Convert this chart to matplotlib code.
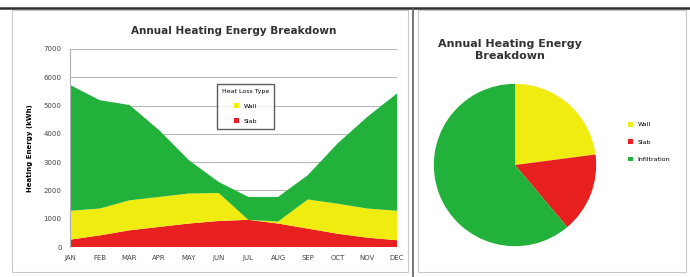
import matplotlib
matplotlib.use('Agg')
import numpy as np
from matplotlib import pyplot as plt
from matplotlib.lines import Line2D
from matplotlib.patches import Rectangle

months = ['JAN', 'FEB', 'MAR', 'APR', 'MAY', 'JUN', 'JUL', 'AUG', 'SEP', 'OCT', 'NOV', 'DEC']
slab   = [260, 410, 590, 710, 830, 920, 960, 830, 650, 470, 330, 240]
wall   = [1020, 950, 1060, 1060, 1060, 990, 0, 70, 1030, 1060, 1030, 1040]
infil  = [4450, 3830, 3370, 2360, 1180, 390, 810, 870, 860, 2130, 3240, 4150]
yticks = [0, 1000, 2000, 3000, 4000, 5000, 6000, 7000]

c_red    = '#e82020'
c_yellow = '#f0ec10'
c_green  = '#22b23c'

W, H = 690, 277
fig = plt.figure(figsize=(W / 100, H / 100), dpi=100)
fig.patch.set_facecolor('white')

# panel frames
fig.add_artist(Line2D([0, 1], [1 - 8 / H, 1 - 8 / H], color='#303030', lw=1.8))
fig.add_artist(Line2D([413 / W, 413 / W], [0, 1 - 8 / H], color='#606060', lw=1.2))
fig.add_artist(Rectangle((12 / W, 5 / H), 396 / W, 262 / H, fill=False, ec='#c8c8c8', lw=0.8))
fig.add_artist(Rectangle((418 / W, 5 / H), 268 / W, 262 / H, fill=False, ec='#c8c8c8', lw=0.8))

# stacked area
ax = fig.add_axes([70 / W, 30 / H, 327 / W, 198 / H])
x = np.arange(len(months))
polys = ax.stackplot(x, slab, wall, infil, colors=[c_red, c_yellow, c_green], lw=0)
ax.set_xlim(0, len(months) - 1)
ax.set_ylim(0, 7000)
ax.set_yticks(yticks)
ax.set_yticklabels([str(v) for v in yticks], fontsize=5, color='#444444')
ax.set_xticks(x)
ax.set_xticklabels(months, fontsize=5, color='#444444')
ax.tick_params(length=0, pad=6)
ax.grid(axis='y', color='#b8b8b8', lw=0.8)
ax.set_axisbelow(True)
for s in ['top', 'right', 'bottom']:
    ax.spines[s].set_visible(False)
ax.spines['left'].set_color('#b0b0b0')
ax.set_ylabel('Heating Energy (kWh)', fontsize=5, fontweight='bold', labelpad=8)
ax.set_title('Annual Heating Energy Breakdown', fontsize=7.5, fontweight='bold', pad=11, color='#333333')
leg = ax.legend([polys[1], polys[0]], ['Wall', 'Slab'], title='Heat Loss Type',
                loc='upper left', bbox_to_anchor=(0.44, 0.84), fontsize=4.5, title_fontsize=4.5,
                frameon=True, fancybox=False, edgecolor='#333333', handlelength=0.8, handleheight=0.8,
                labelspacing=1.5, borderpad=0.8)
leg.get_frame().set_linewidth(1.0)

# pie
pax = fig.add_axes([433 / W, 30 / H, 164 / W, 164 / H])
totals = [sum(wall), sum(slab), sum(infil)]
wedges, _ = pax.pie(totals, colors=[c_yellow, c_red, c_green], startangle=90,
                    counterclock=False, wedgeprops=dict(lw=0))
pax.set_xlim(-1.01, 1.01)
pax.set_ylim(-1.01, 1.01)
pax.set_aspect('equal')
fig.text(510 / W, 1 - 50 / H, 'Annual Heating Energy\nBreakdown', ha='center', va='center',
         fontsize=8, fontweight='bold', color='#333333', linespacing=1.15)
fig.legend(wedges, ['Wall', 'Slab', 'Infiltration'], loc='center left',
           bbox_to_anchor=(622 / W, 1 - 142 / H), fontsize=4.5, frameon=False,
           handlelength=0.8, handleheight=0.8, labelspacing=1.9)

fig.savefig('out.png', dpi=100)
